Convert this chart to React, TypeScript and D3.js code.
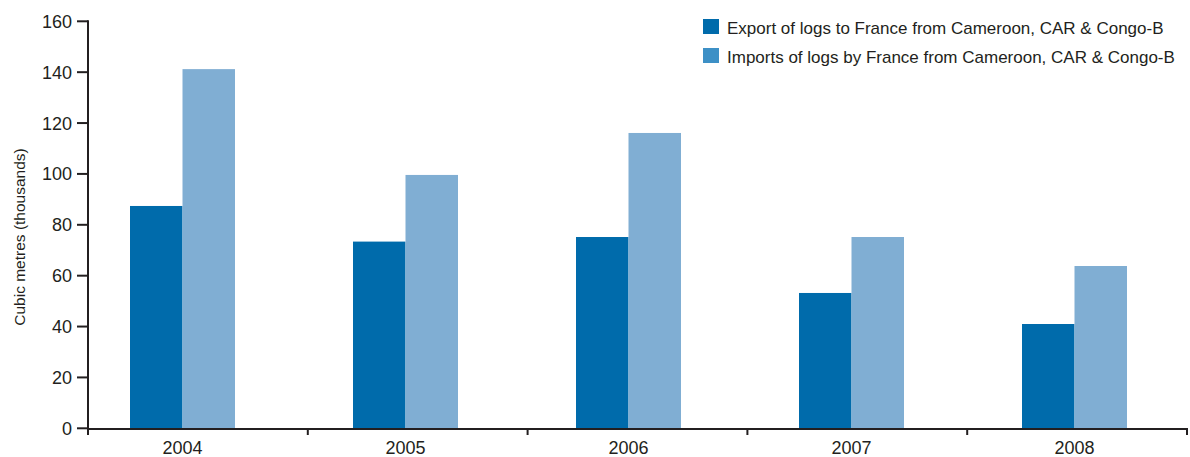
import React from "react";
import * as d3 from "d3";

const years = ["2004", "2005", "2006", "2007", "2008"];
const exportsToFrance = [87.4, 73.4, 75.2, 53.2, 41.0];
const importsByFrance = [141.2, 99.6, 116.1, 75.2, 63.8];
const seriesNames = [
  "Export of logs to France from Cameroon, CAR & Congo-B",
  "Imports of logs by France from Cameroon, CAR & Congo-B",
];
const yTicks = [0, 20, 40, 60, 80, 100, 120, 140, 160];

const W = 1190;
const H = 457;
const FONT = "'Liberation Sans', Arial, Helvetica, sans-serif";
const TEXT = "#231f20";
const BAR_COLORS = ["#006bab", "#80aed3"];
const LEGEND_COLORS = ["#006bab", "#3d90c6"];

export default function App() {
  const y = d3.scaleLinear().domain([0, 160]).range([428.3, 21.3]);
  const x0 = d3.scaleBand<string>().domain(years).range([71, 1186]).padding(0);
  const groupW = 105;
  const x1 = d3.scaleBand<number>().domain([0, 1]).range([0, groupW]).padding(0);
  const xTickScale = d3.scaleLinear().domain([0, years.length]).range([88, 1187]);
  const xTickIdx = d3.range(0, years.length + 1);
  const data = [exportsToFrance, importsByFrance];
  const axisY = 429;

  return (
    <svg
      width={W}
      height={H}
      style={{ position: "absolute", left: 0, top: 0, background: "#fff" }}
      fontFamily={FONT}
    >
      {/* bars */}
      {years.map((yr, i) => {
        const gx = (x0(yr) as number) + (x0.bandwidth() - groupW) / 2;
        return (
          <g key={yr}>
            {data.map((series, s) => (
              <rect
                key={s}
                x={gx + (x1(s) as number)}
                y={y(series[i])}
                width={x1.bandwidth()}
                height={y(0) - y(series[i])}
                fill={BAR_COLORS[s]}
              />
            ))}
          </g>
        );
      })}

      {/* y axis */}
      <line x1={88} x2={88} y1={20.3} y2={axisY + 6} stroke={TEXT} strokeWidth={2} />
      {yTicks.map((t) => (
        <g key={t}>
          <line x1={77} x2={88} y1={y(t)} y2={y(t)} stroke={TEXT} strokeWidth={2} />
          <text
            x={72}
            y={y(t)}
            dy="0.36em"
            textAnchor="end"
            fontSize={18}
            fill={TEXT}
          >
            {t}
          </text>
        </g>
      ))}
      <text
        transform={`translate(25,237) rotate(-90)`}
        textAnchor="middle"
        fontSize={15.5}
        fill={TEXT}
      >
        Cubic metres (thousands)
      </text>

      {/* x axis */}
      <line x1={87} x2={1188} y1={axisY} y2={axisY} stroke={TEXT} strokeWidth={2} />
      {xTickIdx.map((k) => (
        <line
          key={k}
          x1={xTickScale(k)}
          x2={xTickScale(k)}
          y1={axisY}
          y2={axisY + 6}
          stroke={TEXT}
          strokeWidth={2}
        />
      ))}
      {years.map((yr) => (
        <text
          key={yr}
          x={(x0(yr) as number) + x0.bandwidth() / 2}
          y={454}
          textAnchor="middle"
          fontSize={18}
          fill={TEXT}
        >
          {yr}
        </text>
      ))}

      {/* legend */}
      {seriesNames.map((name, s) => (
        <g key={name} transform={`translate(703,${19 + s * 29})`}>
          <rect x={0} y={0} width={16} height={15} fill={LEGEND_COLORS[s]} />
          <text x={24} y={15} fontSize={17} fill={TEXT}>
            {name}
          </text>
        </g>
      ))}
    </svg>
  );
}
